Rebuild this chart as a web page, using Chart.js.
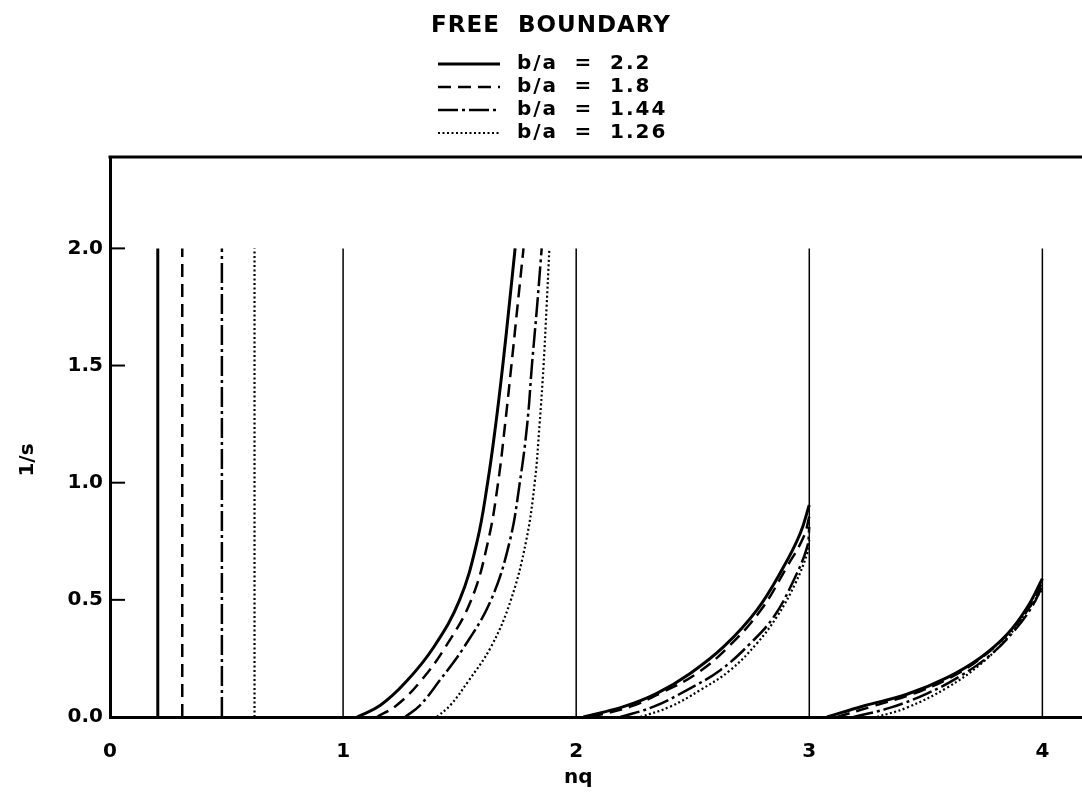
<!DOCTYPE html>
<html>
<head>
<meta charset="utf-8">
<title>Free boundary</title>
<script src="https://cdn.jsdelivr.net/npm/chart.js@4.4.1/dist/chart.umd.min.js"></script>
<style>
  html, body { margin: 0; padding: 0; background: #fff; }
  canvas { display: block; }
</style>
</head>
<body>
<canvas id="chart" width="1082" height="800"></canvas>
<script>
// eksen degerleri
const nqTicks = [0, 1, 2, 3, 4];
const sTicks = [0, 0.5, 1.0, 1.5, 2.0];
const nqMax = 4.17;
const sMax = 2.39;

// b/a oranlari ve cizgi stilleri
const ratios = ['2.2', '1.8', '1.44', '1.26'];
const poleNq = [0.205, 0.31, 0.48, 0.62];   // sol taraftaki dikey cizgiler
const poleTop = 2.0;
const refNq = [1, 2, 3, 4];                  // ince dikey cizgiler
const refTop = 2.0;

// 1 ile 2 arasi egriler (ortak 1/s degerleri)
const band1S = [0, 0.05, 0.15, 0.3, 0.5, 0.75, 1.0, 1.25, 1.5, 1.75, 2.0];
const band1Nq22 = [1.06, 1.16, 1.27, 1.39, 1.50, 1.575, 1.62, 1.655, 1.685, 1.712, 1.738];
const band1Nq18 = [1.145, 1.23, 1.33, 1.44, 1.55, 1.622, 1.665, 1.695, 1.722, 1.748, 1.774];
const band1Nq144 = [1.266, 1.33, 1.41, 1.52, 1.635, 1.715, 1.758, 1.79, 1.81, 1.832, 1.852];
const band1Nq126 = [1.402, 1.46, 1.535, 1.635, 1.72, 1.785, 1.822, 1.843, 1.86, 1.873, 1.885];

// 2 ile 3 arasi egriler [nq, 1/s]
const band2_22 = [[2.031, 0], [2.203, 0.044], [2.346, 0.101], [2.489, 0.186], [2.633, 0.300], [2.775, 0.456], [2.890, 0.641], [2.961, 0.783], [3.0, 0.905]];
const band2_18 = [[2.06, 0], [2.232, 0.044], [2.375, 0.108], [2.518, 0.186], [2.661, 0.307], [2.797, 0.463], [2.904, 0.641], [2.976, 0.769], [3.0, 0.855]];
const band2_144 = [[2.189, 0], [2.332, 0.044], [2.475, 0.115], [2.618, 0.200], [2.747, 0.314], [2.848, 0.428], [2.933, 0.584], [2.991, 0.726], [3.0, 0.811]];
const band2_126 = [[2.275, 0], [2.403, 0.044], [2.532, 0.115], [2.661, 0.200], [2.775, 0.314], [2.861, 0.428], [2.940, 0.570], [2.991, 0.698], [3.0, 0.755]];

// 3 ile 4 arasi egriler [nq, 1/s]
const band3_22 = [[3.076, 0], [3.233, 0.047], [3.419, 0.097], [3.591, 0.168], [3.734, 0.253], [3.849, 0.353], [3.934, 0.466], [4.0, 0.59]];
const band3_18 = [[3.119, 0], [3.276, 0.047], [3.448, 0.100], [3.605, 0.168], [3.748, 0.260], [3.863, 0.367], [3.948, 0.473], [4.0, 0.575]];
const band3_144 = [[3.19, 0], [3.348, 0.040], [3.505, 0.100], [3.648, 0.175], [3.777, 0.265], [3.877, 0.365], [3.955, 0.470], [4.0, 0.56]];
const band3_126 = [[3.29, 0], [3.419, 0.040], [3.591, 0.125], [3.734, 0.225], [3.849, 0.338], [3.934, 0.452], [4.0, 0.545]];

const band1Nq = [band1Nq22, band1Nq18, band1Nq144, band1Nq126];
const band2 = [band2_22, band2_18, band2_144, band2_126];
const band3 = [band3_22, band3_18, band3_144, band3_126];

const lineStyles = [
    { width: 3, dash: [] },
    { width: 2.5, dash: [13, 7] },
    { width: 2.5, dash: [20, 4, 3, 4] },
    { width: 2.2, dash: [2, 2.5] }
];

const FONT = '"DejaVu Sans", "Liberation Sans", sans-serif';

function pairsToPoints(pairs) {
    return pairs.map(p => ({ x: p[0], y: p[1] }));
}

function makeLine(data, style, extra) {
    return Object.assign({
        data: data,
        showLine: true,
        borderColor: '#000',
        backgroundColor: '#000',
        borderWidth: style.width,
        borderDash: style.dash,
        pointRadius: 0,
        fill: false,
        tension: 0,
        clip: false
    }, extra || {});
}

const datasets = [];

// ince referans cizgileri
refNq.forEach(v => {
    datasets.push(makeLine([{ x: v, y: 0 }, { x: v, y: refTop }], { width: 1.5, dash: [] }));
});

ratios.forEach((r, i) => {
    const st = lineStyles[i];
    datasets.push(makeLine([{ x: poleNq[i], y: 0 }, { x: poleNq[i], y: poleTop }], st));
    datasets.push(makeLine(band1S.map((s, k) => ({ x: band1Nq[i][k], y: s })), st, { tension: 0.4 }));
    datasets.push(makeLine(pairsToPoints(band2[i]), st, { tension: 0.4 }));
    datasets.push(makeLine(pairsToPoints(band3[i]), st, { tension: 0.4 }));
});

// baslik, lejant, cerceve, eksen basliklari
const decorations = {
    id: 'decorations',
    afterDraw(chart) {
        const { ctx, chartArea: a, scales: { x, y } } = chart;
        ctx.save();
        ctx.strokeStyle = '#000';
        ctx.fillStyle = '#000';

        // ust cerceve
        ctx.lineWidth = 3;
        ctx.setLineDash([]);
        ctx.beginPath();
        ctx.moveTo(a.left - 1.5, a.top);
        ctx.lineTo(a.right, a.top);
        ctx.stroke();

        // ic tik isaretleri
        ctx.lineWidth = 2;
        sTicks.forEach(v => {
            if (v === 0) return;
            const py = y.getPixelForValue(v);
            ctx.beginPath();
            ctx.moveTo(a.left, py);
            ctx.lineTo(a.left + 15, py);
            ctx.stroke();
        });

        // eksen basliklari
        ctx.font = 'bold 20px ' + FONT;
        ctx.textAlign = 'center';
        ctx.textBaseline = 'middle';
        ctx.fillText('nq', x.getPixelForValue(2) + 2, 778);
        ctx.save();
        ctx.translate(28, 460);
        ctx.rotate(-Math.PI / 2);
        ctx.fillText('1/s', 0, 0);
        ctx.restore();

        // baslik
        ctx.font = 'bold 23px ' + FONT;
        ctx.letterSpacing = '1px';
        ctx.fillText('FREE  BOUNDARY', 551, 26);

        // lejant
        const rowY = [64, 87, 110, 133];
        ratios.forEach((r, i) => {
            const st = lineStyles[i];
            ctx.lineWidth = st.width;
            ctx.setLineDash(st.dash);
            ctx.beginPath();
            ctx.moveTo(438, rowY[i]);
            ctx.lineTo(500, rowY[i]);
            ctx.stroke();
            ctx.setLineDash([]);
            ctx.font = 'bold 20px ' + FONT;
            ctx.letterSpacing = '2px';
            ctx.textAlign = 'left';
            ctx.fillText('b/a', 517, rowY[i]);
            ctx.textAlign = 'center';
            ctx.fillText('=', 584, rowY[i]);
            ctx.textAlign = 'left';
            ctx.fillText(r, 610, rowY[i]);
        });
        ctx.restore();
    }
};

new Chart(document.getElementById('chart'), {
    type: 'scatter',
    data: { datasets: datasets },
    options: {
        responsive: false,
        animation: false,
        devicePixelRatio: 1,
        layout: { padding: { top: 157, left: 0, right: 0, bottom: 0 } },
        plugins: {
            legend: { display: false },
            tooltip: { enabled: false },
            title: { display: false }
        },
        scales: {
            x: {
                type: 'linear',
                min: 0,
                max: nqMax,
                afterBuildTicks: s => { s.ticks = nqTicks.map(v => ({ value: v })); },
                afterFit: s => { s.height = 83; },
                grid: { display: false, drawTicks: false },
                border: { display: true, color: '#000', width: 3 },
                ticks: {
                    color: '#000',
                    font: { family: FONT, size: 20, weight: 'bold' },
                    padding: 23,
                    maxRotation: 0,
                    autoSkip: false,
                    callback: v => String(v)
                }
            },
            y: {
                type: 'linear',
                min: 0,
                max: sMax,
                afterBuildTicks: s => { s.ticks = sTicks.map(v => ({ value: v })); },
                afterFit: s => { s.width = 110; },
                grid: { display: false, drawTicks: false },
                border: { display: true, color: '#000', width: 3 },
                ticks: {
                    color: '#000',
                    font: { family: FONT, size: 20, weight: 'bold' },
                    padding: 7,
                    autoSkip: false,
                    callback: v => v.toFixed(1)
                }
            }
        }
    },
    plugins: [decorations]
});
</script>
</body>
</html>
